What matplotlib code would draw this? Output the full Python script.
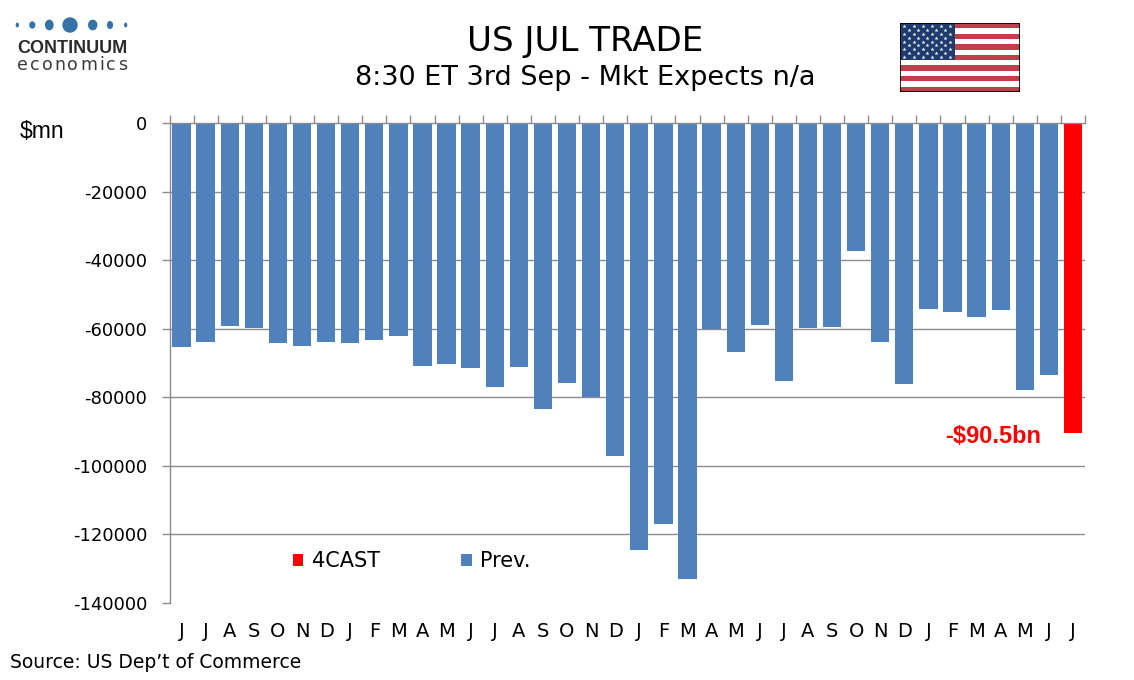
import matplotlib
matplotlib.use("Agg")
import matplotlib.pyplot as plt
from matplotlib.patches import Patch, Ellipse, Rectangle
from matplotlib.font_manager import FontProperties
from matplotlib.textpath import TextToPath
import numpy as np

plt.rcParams['axes.unicode_minus'] = False
plt.rcParams['font.family'] = ['DejaVu Sans']

# ---- data ----
month_labels = ["J", "J", "A", "S", "O", "N", "D",
                "J", "F", "M", "A", "M", "J",
                "J", "A", "S", "O", "N", "D",
                "J", "F", "M", "A", "M", "J",
                "J", "A", "S", "O", "N", "D",
                "J", "F", "M", "A", "M", "J",
                "J"]
prev_values = [-65200, -63900, -59100, -59700, -64100, -65000, -63900,
               -64100, -63200, -62000, -70800, -70200, -71400,
               -76900, -71100, -83300, -75700, -79900, -97000,
               -124500, -117100, -133100, -60200, -66800, -58800,
               -75200, -59700, -59400, -37200, -63800, -76000,
               -54200, -55000, -56500, -54400, -77900, -73400]
forecast_value = -90500
forecast_label = "-$90.5bn"
y_ticks = [0, -20000, -40000, -60000, -80000, -100000, -120000, -140000]

BLUE = "#4F81BD"
RED = "#FF0000"
GRID = "#8C8C8C"

fig = plt.figure(figsize=(11.34, 6.8), dpi=100)
W, H = 1134, 680
ax = fig.add_axes([169.5 / W, 1 - 603 / H, 915.5 / W, 480 / H])

n = len(month_labels)
x = np.arange(n)
ax.bar(x[:len(prev_values)], prev_values, width=0.76, color=BLUE, zorder=2)
ax.bar(x[len(prev_values):], [forecast_value], width=0.76, color=RED, zorder=2)

ax.set_xlim(-0.5, n - 0.5)
ax.set_ylim(-140000, 0)
ax.set_yticks(y_ticks)
ax.set_yticklabels([str(v) for v in y_ticks])
ax.yaxis.grid(True, color=GRID, linewidth=1.0)
ax.set_axisbelow(True)
for gl, v in zip(ax.get_ygridlines(), y_ticks):
    if v in (-140000, 0):
        gl.set_visible(False)

ax.set_xticks(x)
ax.set_xticklabels(month_labels)
ax.set_xticks(np.arange(-0.5, n, 1.0), minor=True)
ax.tick_params(axis='x', which='major', length=0, pad=14, labelsize=14)
ax.tick_params(axis='x', which='minor', top=True, bottom=False, direction='out',
               length=6, color=GRID, width=1)
ax.tick_params(axis='y', which='major', length=6, color=GRID, width=1, pad=10,
               labelsize=13)

for s in ['bottom', 'right']:
    ax.spines[s].set_visible(False)
for s in ['top', 'left']:
    ax.spines[s].set_color(GRID)
    ax.spines[s].set_linewidth(1.0)

# forecast annotation
ax.annotate(forecast_label, xy=(n - 1, forecast_value), xytext=(-23, -2),
            textcoords='offset points', ha='right', va='center',
            color=RED, fontsize=17, fontweight='bold',
            family='Liberation Sans')

# legend
handles = [Patch(facecolor=RED, label="4CAST"), Patch(facecolor=BLUE, label="Prev.")]
fig.legend(handles=handles, loc='center left', bbox_to_anchor=(293 / W, 1 - 561 / H),
           ncol=2, frameon=False, fontsize=15, handlelength=0.5, handleheight=0.5,
           handletextpad=0.4, columnspacing=3.9, borderpad=0, borderaxespad=0)

# titles and texts
fig.text(585 / W, 1 - 41 / H, "US JUL TRADE", ha='center', va='center', fontsize=24.5)
fig.text(585 / W, 1 - 78 / H, "8:30 ET 3rd Sep - Mkt Expects n/a", ha='center',
         va='center', fontsize=19.5)
fig.text(20 / W, 1 - 132 / H, "$mn", ha='left', va='center', fontsize=16.5,
         family='Liberation Sans')
fig.text(10 / W, 1 - 663 / H, "Source: US Dep\u2019t of Commerce", ha='left',
         va='center', fontsize=13.5)

# overlay for logo (pixel coordinates)
ov = fig.add_axes([0, 0, 1, 1], zorder=-1)
ov.set_xlim(0, W)
ov.set_ylim(H, 0)
ov.axis('off')
LOGO = "#3572A8"
dots = [(17.3, 1.8, 3.4), (32.3, 4.7, 6.0), (49.3, 7.3, 9.3), (70, 14, 14),
        (92.7, 8, 9.3), (110, 4.7, 6.7), (125.7, 1.8, 3.4)]
for cx, w, h in dots:
    ov.add_patch(Ellipse((cx, 25), w, h, color=LOGO))
ov.text(72, 48.5, "CONTINUUM", ha='center', va='center', fontsize=13,
        fontweight='bold', family='Liberation Sans', color="#2B2B2B")

# "economics" with letter tracking
word = "economics"
fp = FontProperties(family='DejaVu Sans', size=12.5)
ttp = TextToPath()
px_per_pt = 100 / 72
widths = []
for ch in word:
    w, h_, d_ = ttp.get_text_width_height_descent(ch, fp, ismath=False)
    widths.append(w * px_per_pt)
total_target = 110.0
track = (total_target - sum(widths)) / (len(word) - 1)
cx = 17.0
for ch, w in zip(word, widths):
    ov.text(cx, 70, ch, ha='left', va='baseline', fontproperties=fp, color="#3A3A3A")
    cx += w + track

# flag
fa = fig.add_axes([900 / W, 1 - 92 / H, 120 / W, 69 / H])
fa.set_xlim(0, 1.9)
fa.set_ylim(0, 1)
fa.axis('off')
stripe_h = 1 / 13
for i in range(13):
    col = "#BF3F4A" if i % 2 == 0 else "white"
    fa.add_patch(Rectangle((0, 1 - (i + 1) * stripe_h), 1.9, stripe_h, color=col, lw=0))
fa.add_patch(Rectangle((0, 1 - 7 * stripe_h), 0.87, 7 * stripe_h, color="#1E3A6E", lw=0))
sx, sy = [], []
for r in range(9):
    cols = 6 if r % 2 == 0 else 5
    off = 0.07 if r % 2 == 0 else 0.14
    for c in range(cols):
        sx.append(off + c * 0.145)
        sy.append(1 - 0.05 - r * (7 * stripe_h - 0.1) / 8)
fa.scatter(sx, sy, marker='*', s=9, color='white', linewidths=0)
fa.add_patch(Rectangle((0, 0), 1.9, 1, fill=False, ec='black', lw=1.2))

fig.savefig("out.png", dpi=100)
